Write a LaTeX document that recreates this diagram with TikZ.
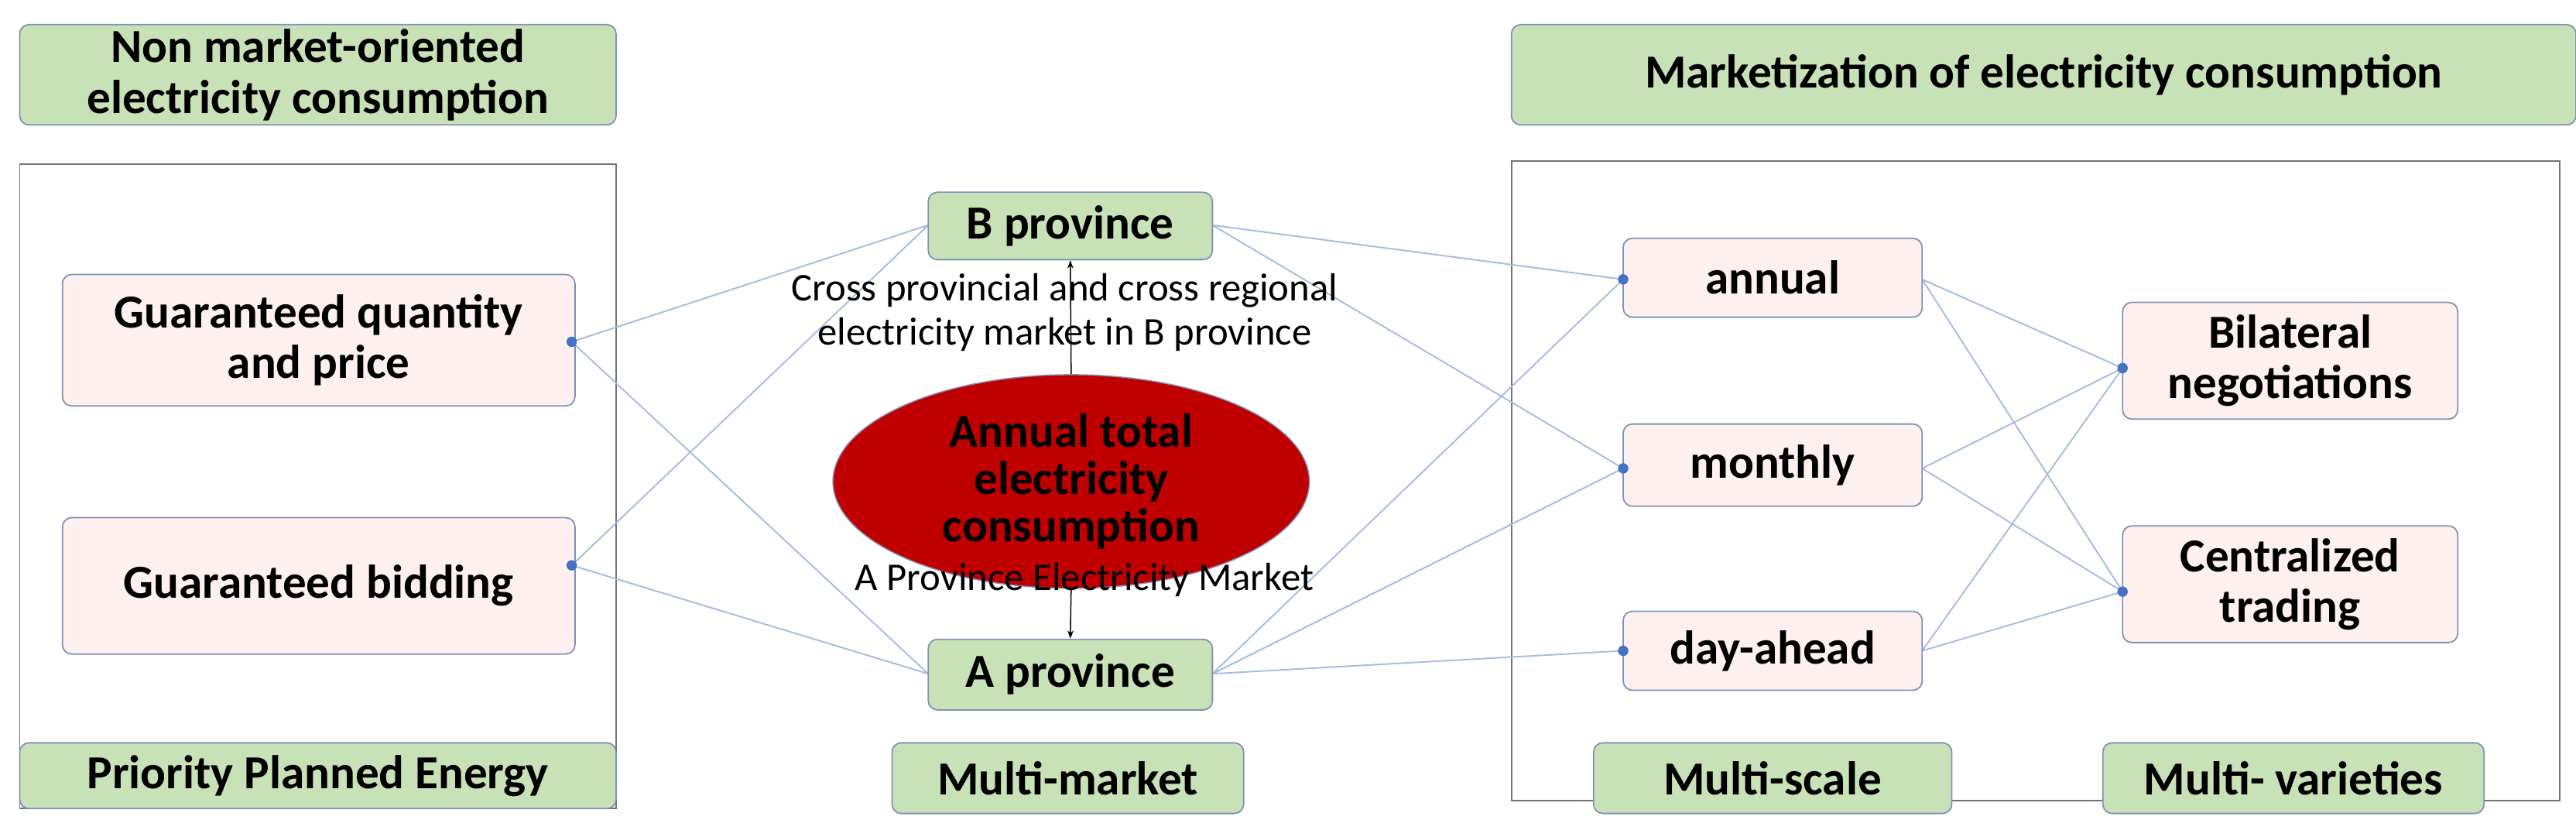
\documentclass[tikz,border=0pt]{standalone}
\usepackage{fontspec}
\setmainfont{Carlito}
\usetikzlibrary{arrows.meta,shapes.geometric}
\definecolor{gfill}{HTML}{C8E2B8}
\definecolor{pfill}{HTML}{FFF0F0}
\definecolor{bord}{HTML}{7F93B8}
\definecolor{edge}{HTML}{A8BCE0}
\definecolor{dotc}{HTML}{4472C4}
\definecolor{ell}{HTML}{C00000}
\newcommand\bx[6]{\node[#5,minimum width={(#3-#1)*0.05cm},minimum height={(#4-#2)*0.05cm}] (#6) at ({(#1+#3)/2},{(#2+#4)/2})}
\begin{document}
\begin{tikzpicture}[x=0.05cm,y=-0.05cm,
 base/.style={draw=bord,line width=1.2pt,rounded corners=8pt,inner sep=2pt,align=center,font=\bfseries\fontsize{41}{44}\selectfont},
 g/.style={base,fill=gfill},
 p/.style={base,fill=pfill},
 e/.style={draw=edge,line width=1.3pt},
 dot/.style={circle,fill=dotc,inner sep=0pt,minimum size=9pt},
 lab/.style={font=\fontsize{34}{38}\selectfont,align=center,inner sep=1pt}]
\useasboundingbox (0,0) rectangle (1568,509);
% frames
\draw[gray!90!black,line width=1.2pt] (12,100) rectangle (375,492);
\draw[gray!90!black,line width=1.5pt] (920,98) rectangle (1558,487);
% edge end points
\coordinate (d1) at (348,208);
\coordinate (d2) at (348,344);
\coordinate (pa) at (988,170);
\coordinate (pm) at (988,285);
\coordinate (pd) at (988,396);
\coordinate (pb) at (1292,224);
\coordinate (pc) at (1292,360);
\coordinate (bw) at (565,137);
\coordinate (be) at (738,137);
\coordinate (aw) at (565,410);
\coordinate (ae) at (738,410);
\coordinate (ae1) at (1170,170);\coordinate (me1) at (1170,285);\coordinate (de1) at (1170,396);
\draw[e] (d1)--(bw) (d1)--(aw) (d2)--(bw) (d2)--(aw);
\draw[e] (be)--(pa) (be)--(pm) (ae)--(pa) (ae)--(pm) (ae)--(pd);
\draw[e] (ae1)--(pb) (ae1)--(pc) (me1)--(pb) (me1)--(pc) (de1)--(pb) (de1)--(pc);
% nodes
\bx{12}{15}{375}{76}{g}{n1}{Non market-oriented\\electricity consumption};
\bx{920}{15}{1568}{76}{g}{n2}{Marketization of electricity consumption};
\bx{38}{167}{350}{247}{p}{gqp}{Guaranteed quantity\\and price};
\bx{38}{315}{350}{398}{p}{gb}{Guaranteed bidding};
\bx{12}{452}{375}{492}{g}{ppe}{Priority Planned Energy};
\bx{565}{117}{738}{158}{g}{B}{B province};
\bx{565}{389}{738}{432}{g}{A}{A province};
\bx{543}{452}{757}{495}{g}{mm}{Multi-market};
\bx{988}{145}{1170}{193}{p}{an}{annual};
\bx{988}{258}{1170}{308}{p}{mo}{monthly};
\bx{988}{372}{1170}{420}{p}{dah}{day-ahead};
\bx{1292}{184}{1496}{255}{p}{bi}{Bilateral\\negotiations};
\bx{1292}{320}{1496}{391}{p}{ce}{Centralized\\trading};
\bx{970}{452}{1188}{495}{g}{ms}{Multi-scale};
\bx{1280}{452}{1512}{495}{g}{mv}{Multi- varieties};
\node[ellipse,fill=ell,draw=bord,line width=1pt,minimum width=290*0.05cm,minimum height=130*0.05cm,inner sep=0pt,align=center,font=\bfseries\fontsize{41}{41}\selectfont] (el) at (652,293) {Annual total\\electricity\\consumption};
\draw[-{Stealth[length=7pt]},line width=1pt] (el.north) -- (B.south);
\draw[-{Stealth[length=7pt]},line width=1pt] (el.south) -- (A.north);
\node[lab] (l1) at (648,190) {Cross provincial and cross regional\\electricity market in B province};
\node[lab] (l2) at (660,353) {A Province Electricity Market};
\foreach \d in {d1,d2,pa,pm,pd,pb,pc} \node[dot] at (\d) {};
\end{tikzpicture}
\end{document}
